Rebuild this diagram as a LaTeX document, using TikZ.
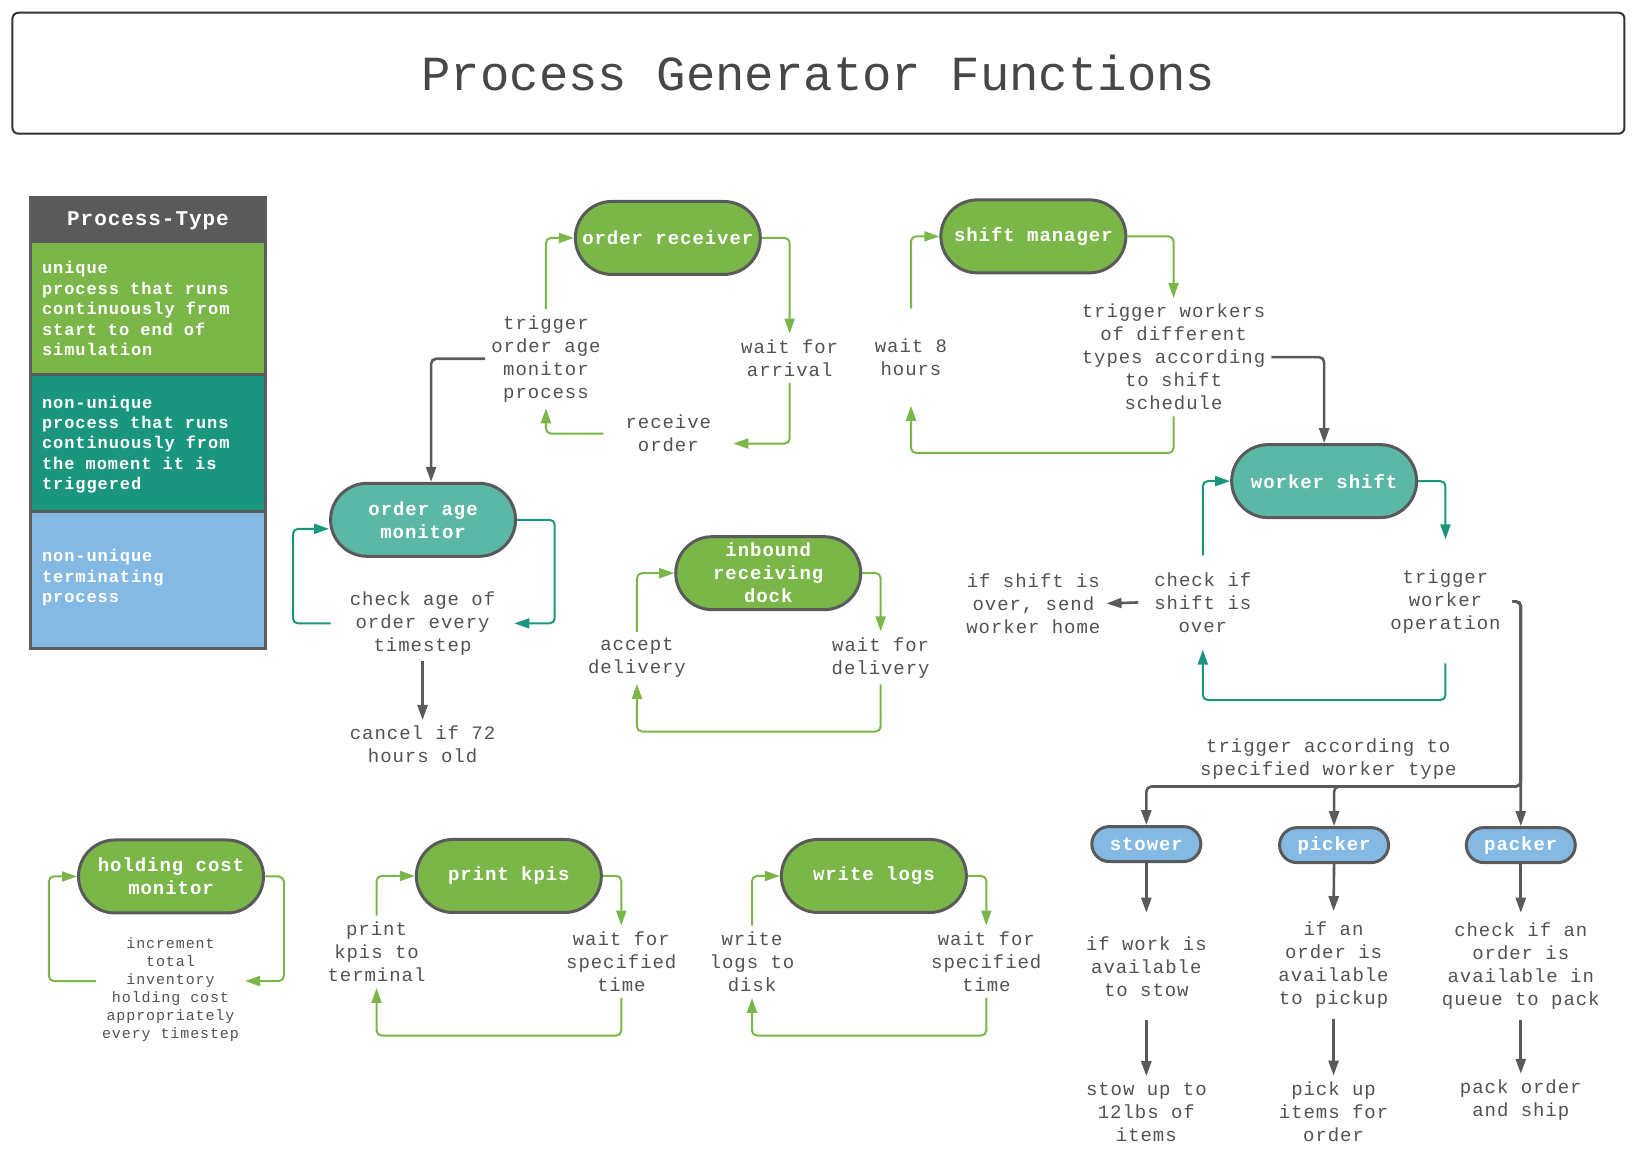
\documentclass[tikz,border=0pt]{standalone}
\usepackage{fontspec}
\usetikzlibrary{arrows.meta}

\newfontfamily\pgmono{Liberation Mono}[LetterSpace=5]
\newfontfamily\pglegmono{Liberation Mono}[LetterSpace=5.5]
\newfontfamily\pgheadmono{Liberation Mono}[LetterSpace=4.5]
\newfontfamily\pgsmallmono{Liberation Mono}[LetterSpace=6]
\newfontfamily\pgtitlemono{Liberation Mono}

\definecolor{pgreen}{HTML}{7AB648}
\definecolor{pteal}{HTML}{19967D}
\definecolor{ptealnode}{HTML}{5CB8A6}
\definecolor{pblue}{HTML}{83B9E3}
\definecolor{pgray}{HTML}{5A5A5A}
\definecolor{ptext}{HTML}{525252}
\definecolor{pframe}{HTML}{333333}

\begin{document}
\begin{tikzpicture}[x=1.0459pt, y=-1.0459pt,
    proc/.style={draw=pgray, line width=3pt, text=white, align=center,
        minimum width=185pt, minimum height=73pt, rounded corners=36.5pt, inner sep=0pt,
        font=\fontsize{19}{23}\selectfont\pgmono\bfseries},
    ugreen/.style={proc, fill=pgreen},
    uteal/.style={proc, fill=ptealnode},
    term/.style={proc, fill=pblue, minimum width=109pt, minimum height=35pt, rounded corners=17.5pt},
    txt/.style={align=center, text=ptext, inner sep=6pt, font=\fontsize{19}{23}\selectfont\pgmono},
    smalltxt/.style={txt, font=\fontsize{15}{18}\selectfont\pgsmallmono},
    legtxt/.style={align=left, text=white, anchor=west, inner sep=0pt,
        font=\fontsize{17}{20.4}\selectfont\pglegmono\bfseries},
    glink/.style={draw=pgreen, line width=2pt, rounded corners=5pt, -{Triangle[length=15pt,width=10pt]}},
    tlink/.style={glink, draw=pteal},
    klink/.style={glink, draw=pgray, line width=2.6pt}]

    \useasboundingbox (0,0) rectangle (1568,1102);

    % タイトル
    \node[draw=pframe, line width=2pt, rounded corners=6pt, minimum width=1612pt, minimum height=121pt,
        text=pframe!90, font=\fontsize{49}{55}\selectfont\pgtitlemono] (title) at (782.5,70) {Process Generator Functions};

    % 凡例
    \fill[pgray] (29,189) rectangle (254,231);
    \draw[fill=pgreen, draw=pgray, line width=3pt] (29,231) rectangle (254,358);
    \draw[fill=pteal, draw=pgray, line width=3pt] (29,358) rectangle (254,489);
    \draw[fill=pblue, draw=pgray, line width=3pt] (29,489) rectangle (254,620);
    \draw[pgray, line width=3pt] (29,189) rectangle (254,620);
    \node[text=white, font=\fontsize{21}{24}\selectfont\pgheadmono\bfseries] (lghead) at (141.5,211) {Process-Type};
    \node[legtxt] (lgunique) at (40,295) {unique\\process that runs\\continuously from\\start to end of\\simulation};
    \node[legtxt] (lgloop) at (40,425) {non-unique\\process that runs\\continuously from\\the moment it is\\triggered};
    \node[legtxt] (lgterm) at (40,552.5) {non-unique\\terminating\\process};

    % プロセス
    \node[ugreen] (orec) at (638.5,227.5) {order receiver};
    \node[ugreen] (smgr) at (988,226) {shift manager};
    \node[uteal] (oam) at (404.5,497) {order age\\monitor};
    \node[ugreen] (dock) at (734.5,548) {inbound\\receiving\\dock};
    \node[uteal] (wsh) at (1266,460) {worker shift};
    \node[ugreen] (hcm) at (163.5,838) {holding cost\\monitor};
    \node[ugreen] (pk) at (486.5,837.5) {print kpis};
    \node[ugreen] (wl) at (835.5,837.5) {write logs};
    \node[term] (stw) at (1096,807) {stower};
    \node[term] (pkr) at (1275.5,808) {picker};
    \node[term] (pck) at (1454,808) {packer};

    % 手順
    \node[txt] (trig) at (522,343) {trigger\\order age\\monitor\\process};
    \node[txt] (warr) at (755,342.5) {wait for\\arrival};
    \node[txt, inner xsep=22pt] (recv) at (639,414.5) {receive\\order};
    \node[txt, inner ysep=30pt] (w8) at (871,341.5) {wait 8\\hours};
    \node[txt] (twrk) at (1122,341.5) {trigger workers\\of different\\types according\\to shift\\schedule};
    \node[txt, inner xsep=19pt] (cage) at (404,596) {check age of\\order every\\timestep};
    \node[txt] (cancel) at (404,712) {cancel if 72\\hours old};
    \node[txt] (acc) at (609,629) {accept\\delivery};
    \node[txt] (wdel) at (842,629) {wait for\\delivery};
    \node[txt] (home) at (988,577) {if shift is\\over, send\\worker home};
    \node[txt, inner xsep=16pt, inner ysep=17pt] (cshift) at (1150,576) {check if\\shift is\\over};
    \node[txt, inner xsep=11.5pt, inner ysep=30pt] (twop) at (1382,575) {trigger\\worker\\operation};
    \node[txt] (tacc) at (1270,726) {trigger according to\\specified worker type};
    \node[smalltxt] (inc) at (163,946) {increment\\total\\inventory\\holding cost\\appropriately\\every timestep};
    \node[txt] (pkt) at (360,910) {print\\kpis to\\terminal};
    \node[txt] (wfs1) at (594,919.5) {wait for\\specified\\time};
    \node[txt] (wld) at (719,919.5) {write\\logs to\\disk};
    \node[txt] (wfs2) at (943,919.5) {wait for\\specified\\time};
    \node[txt, minimum height=107pt] (stw-q) at (1096,924) {if work is\\available\\to stow};
    \node[txt, minimum height=107pt] (pkr-q) at (1275,922.5) {if an\\order is\\available\\to pickup};
    \node[txt, minimum height=107pt] (pck-q) at (1454,924) {check if an\\order is\\available in\\queue to pack};
    \node[txt] (stw-a) at (1096,1063) {stow up to\\12lbs of\\items};
    \node[txt] (pkr-a) at (1275,1063) {pick up\\items for\\order};
    \node[txt] (pck-a) at (1454,1052) {pack order\\and ship};

    % order receiver
    \draw[glink] (trig.north) |- (orec.west);
    \draw[glink] (orec.east) -| (warr.north);
    \draw[glink] (warr.south) |- ([yshift=-10pt]recv.east);
    \draw[glink] (recv.west) -| (trig.south);
    \draw[klink] (trig.west) -| ([xshift=8pt]oam.north);

    % shift manager
    \draw[glink] (w8.north) |- (smgr.west);
    \draw[glink] (smgr.east) -| (twrk.north);
    \draw[glink] (twrk.south) -- ++(0,35) -| (w8.south);
    \draw[klink] (twrk.east) -| (wsh.north);

    % order age monitor
    \draw[tlink] (cage.west) -- ++(-36,0) |- ([yshift=-9pt]oam.west);
    \draw[tlink] (oam.east) -- ++(36,0) |- (cage.east);
    \draw[klink] (cage.south) -- (cancel.north);

    % inbound receiving dock
    \draw[glink] (acc.north) |- (dock.west);
    \draw[glink] (dock.east) -| (wdel.north);
    \draw[glink] (wdel.south) -- ++(0,45) -| (acc.south);

    % worker shift
    \draw[tlink] (cshift.north) |- (wsh.west);
    \draw[tlink] (wsh.east) -| (twop.north);
    \draw[tlink] (twop.south) -- ++(0,35) -| (cshift.south);
    \draw[klink] (cshift.west) -- (home.east);

    % 作業者の種類へ分岐
    \coordinate (split) at (1454,752);
    \draw[klink] (twop.east) -| (split) -| (stw.north);
    \draw[klink] (twop.east) -| (split) -| (pkr.north);
    \draw[klink] (twop.east) -| (pck.north);
    \foreach \n in {stw,pkr,pck} {
        \draw[klink] (\n.south) -- (\n-q.north);
        \draw[klink] (\n-q.south) -- (\n-a.north);
    }

    % holding cost monitor
    \draw[glink] ([yshift=8.4pt]inc.west) -- ++(-45,0) |- (hcm.west);
    \draw[glink] (hcm.east) -- ++(18,0) |- ([yshift=8.4pt]inc.east);

    % print kpis / write logs
    \foreach \a/\b/\c in {pkt/pk/wfs1, wld/wl/wfs2} {
        \draw[glink] (\a.north) |- (\b.west);
        \draw[glink] (\b.east) -| (\c.north);
        \draw[glink] (\c.south) -- ++(0,36) -| (\a.south);
    }
\end{tikzpicture}
\end{document}
